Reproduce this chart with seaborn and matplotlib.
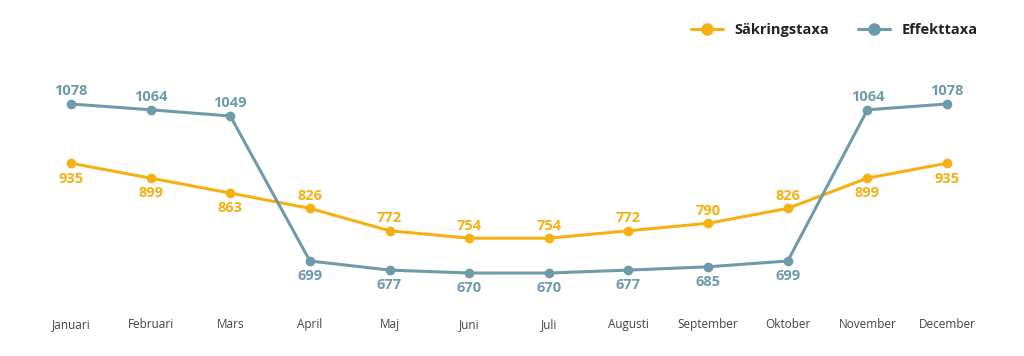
import pandas as pd
import seaborn as sns
import matplotlib.pyplot as plt

months = ["Januari", "Februari", "Mars", "April", "Maj", "Juni", "Juli",
          "Augusti", "September", "Oktober", "November", "December"]
sakring = [935, 899, 863, 826, 772, 754, 754, 772, 790, 826, 899, 935]
effekt = [1078, 1064, 1049, 699, 677, 670, 670, 677, 685, 699, 1064, 1078]
series_names = ["Säkringstaxa", "Effekttaxa"]

YELLOW = "#F5B014"
BLUE = "#6E9BAA"

sns.set_theme(style="white")
plt.rcParams["font.family"] = ["Open Sans", "DejaVu Sans"]

df = pd.DataFrame({
    "idx": list(range(12)) * 2,
    "value": sakring + effekt,
    "series": [series_names[0]] * 12 + [series_names[1]] * 12,
})

fig = plt.figure(figsize=(10.24, 3.56), dpi=100)
ax = fig.add_axes([0, 46 / 356, 1, 250 / 356])

sns.lineplot(data=df, x="idx", y="value", hue="series",
             palette={series_names[0]: YELLOW, series_names[1]: BLUE},
             marker="o", markersize=7, markeredgewidth=0, linewidth=2.2,
             ax=ax, legend=False)

ax.set_xlim(-71 / 79.64, (1024 - 71) / 79.64)
ax.set_ylim(580.7, 1184.2)

# value labels: Effekttaxa above in winter, below in summer; Säkringstaxa the opposite
winter = {0, 1, 2, 10, 11}
for i in range(12):
    up = i in winter
    ax.annotate(f"{effekt[i]}", (i, effekt[i]), xytext=(0, 4 if up else -6),
                textcoords="offset points", ha="center",
                va="bottom" if up else "top", color=BLUE,
                fontsize=10.5, fontweight="bold")
    ax.annotate(f"{sakring[i]}", (i, sakring[i]), xytext=(0, -6 if up else 4),
                textcoords="offset points", ha="center",
                va="top" if up else "bottom", color=YELLOW,
                fontsize=10.5, fontweight="bold")

ax.set_xticks(range(12))
ax.set_xticklabels(months, fontsize=8.5, color="#444444")
ax.tick_params(axis="x", length=0, pad=6)
ax.set_yticks([])
ax.set_xlabel("")
ax.set_ylabel("")
sns.despine(ax=ax, left=True, bottom=True)

handles = [
    plt.Line2D([], [], color=YELLOW, marker="o", markersize=8, linewidth=2.2),
    plt.Line2D([], [], color=BLUE, marker="o", markersize=8, linewidth=2.2),
]
fig.legend(handles, series_names, loc="upper right", bbox_to_anchor=(0.968, 0.973),
           ncol=2, frameon=False, handlelength=2.2, handletextpad=0.8,
           columnspacing=2.0, prop={"weight": "bold", "size": 10.5},
           labelcolor="#222222")

fig.savefig("out.png", dpi=100)
plt.close()
